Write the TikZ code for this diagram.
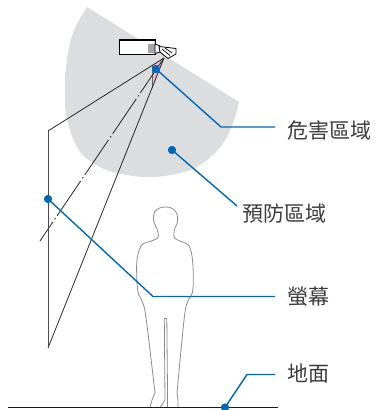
\documentclass[tikz,border=0pt]{standalone}
\usepackage{fontspec}
\usepackage{tikz}
\usetikzlibrary{positioning}
\newfontfamily\cjk{Noto Sans CJK TC}
\definecolor{lead}{HTML}{0068B7}
\definecolor{zone}{HTML}{DCDDDF}
\definecolor{hazard}{HTML}{F4B6CF}
\definecolor{label}{HTML}{3C3C3C}

\tikzset{
  leader/.style={lead, line width=1.4pt},
  pin/.style={circle, fill=lead, inner sep=0pt, minimum size=8pt},
  caption/.style={anchor=west, inner sep=0pt, text=label, font=\cjk\fontsize{21}{23}\selectfont},
  ray/.style={black!85, line width=0.8pt},
  person/.style={draw=black!45, line width=0.8pt, line join=round},
}

\begin{document}
\begin{tikzpicture}[x=1pt, y=-1pt]
        \useasboundingbox (0,0) rectangle (375,410);

        % zone around the projector
        \fill[zone] (87,7) -- (239,102) -- plot[smooth, tension=0.7] coordinates
          {(239,102) (233,123) (221,146) (200,165) (180,173) (150,177) (117,173)
           (93,163) (77,147) (67,118) (65,95) (66,67) (73,33) (87,7)} -- cycle;

        \path
        (164,58) coordinate(lens)
        (48,131) coordinate(scrTop)
        (48,348) coordinate(scrBot)
        (40,241) coordinate(axisEnd)
        (152,65.6) coordinate(triTop)
        (152,88) coordinate(triBot)
        ;

        \fill[hazard] (lens) -- (triTop) -- (triBot) -- cycle;
        \draw[black!60, line width=0.8pt] (triTop) -- (triBot);

        \draw[ray] (lens) -- (scrTop);
        \draw[ray] (lens) -- (scrBot);
        \draw[ray, dash pattern=on 42pt off 3pt on 1.5pt off 3pt] (lens) -- (axisEnd);
        \draw[black!70, line width=1pt] (scrTop) -- (scrBot);

        % projector
        \filldraw[fill=white, line width=0.9pt] (119,39) rectangle (155,54);
        \draw[line width=1.8pt] (119,39.6) -- (155,39.6);
        \fill[black!35] (147.5,44) rectangle (154.5,53);
        \filldraw[fill=white, line width=0.8pt] (155,44) -- (160,46) -- (160,52) -- (155,53.5) -- cycle;
        \filldraw[fill=white, line width=0.8pt, line join=round]
          (159,46.5) -- (176,48.5) -- (176,54) -- (168,58.5) -- (160,52) -- cycle;
        \draw[line width=0.7pt] (162,49) -- (170,55.5) (165,48) -- (172,53);

        % person
        \draw[person] (150,407.5) -- (152,400) -- plot[smooth, tension=0.55] coordinates
          {(155,393) (150,350) (145,311) (141.5,300) (138,292) (136.7,275) (137.2,258)
           (141.7,245) (150,241.5) (157.5,238) (158.2,233) (156.5,228) (153.5,220)
           (154.5,212) (159.5,208) (166,207) (172.5,208.5) (177,214) (177.5,222)
           (175,228) (174,233) (174.5,238) (181,241.5) (188.5,245) (192,256)
           (193.3,275) (192.5,292) (188.3,300) (185,312) (181,350) (177,393)}
          -- (178,400) -- (178,407.5) -- (167.5,407.5) -- (167.6,400) -- (166.8,318.5)
          -- (164.3,318.5) -- (165,400) -- (160,407.5) -- cycle;

        % floor
        \draw[black!90, line width=1.5pt] (8,407.5) -- (278,407.5);

        \path
        (156,69) node[pin](dDanger) {}
        (221,127) coordinate(kDanger)
        (275,127) coordinate(eDanger)
        (287,130) node[caption](tDanger) {危害區域}
        (172,150) node[pin](dGuard) {}
        (237,206) coordinate(eGuard)
        (242,214) node[caption](tGuard) {預防區域}
        (48,199) node[pin](dScreen) {}
        (153,296.5) coordinate(kScreen)
        (275,296.5) coordinate(eScreen)
        (287,297) node[caption](tScreen) {螢幕}
        (225,407.5) node[pin](dFloor) {}
        (247,374.5) coordinate(kFloor)
        (275,374.5) coordinate(eFloor)
        (287,374) node[caption](tFloor) {地面}
        ;

        \draw[leader] (dDanger.center) -- (kDanger) -- (eDanger);
        \draw[leader] (dGuard.center) -- (eGuard);
        \draw[leader] (dScreen.center) -- (kScreen) -- (eScreen);
        \draw[leader] (dFloor.center) -- (kFloor) -- (eFloor);
        \node[pin] at (dDanger) {};
        \node[pin] at (dGuard) {};
        \node[pin] at (dScreen) {};
        \node[pin] at (dFloor) {};
      \end{tikzpicture}
\end{document}
